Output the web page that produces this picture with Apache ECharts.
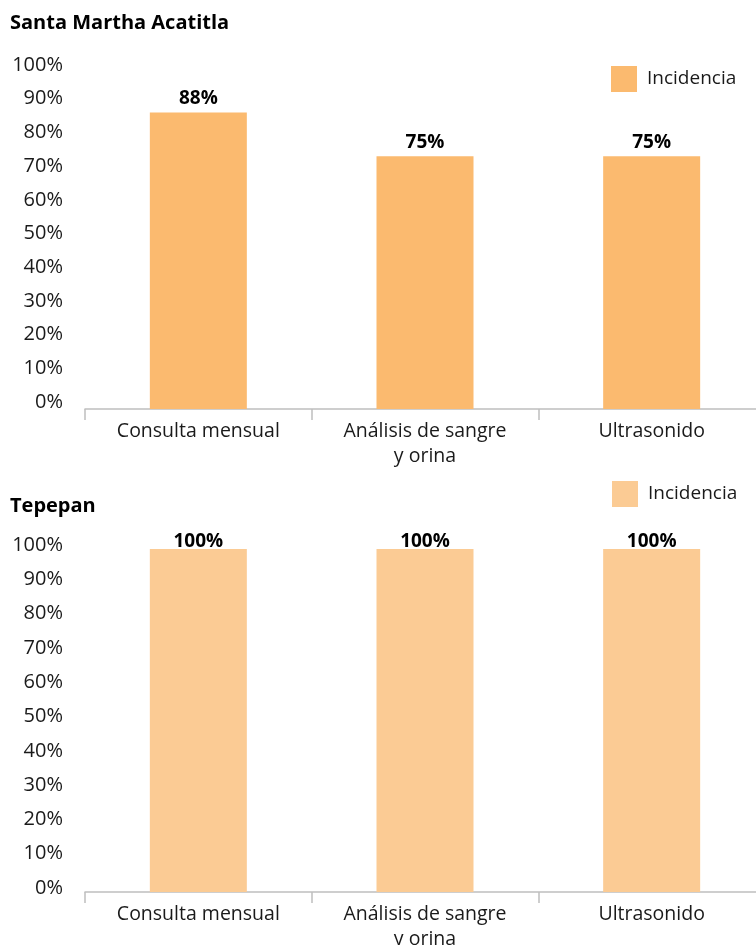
<!DOCTYPE html>
<html>
<head>
<meta charset="utf-8">
<script src="https://cdn.jsdelivr.net/npm/echarts@6/dist/echarts.min.js"></script>
<style>
  html, body { margin: 0; padding: 0; background: #ffffff; }
  #chart { width: 756px; height: 945px; }
</style>
</head>
<body>
<div id="chart"></div>
<script>
// Service categories shared by both facilities
const categories = ['Consulta mensual', 'Análisis de sangre\ny orina', 'Ultrasonido'];
// Incidence (%) per facility
const santaMarthaValues = [88, 75, 75];
const tepepanValues = [100, 100, 100];
// Panel titles and legend label
const panelTitles = ['Santa Martha Acatitla', 'Tepepan'];
const legendLabel = 'Incidencia';

const FONT = '"Open Sans", "Noto Sans", sans-serif';
const TEXT = '#1a1a1a';
const colors = ['#FBBA6F', '#FBCB94'];

// Tick labels sit slightly above their tick: bottom-aligned box whose
// line height sets how far the text centre is raised.
function yAxisFor(gridIndex, raise) {
  return {
    type: 'value', gridIndex: gridIndex, min: 0, max: 100, interval: 10,
    axisLine: { show: false }, axisTick: { show: false }, splitLine: { show: false },
    axisLabel: {
      formatter: '{value}%', margin: 22, color: TEXT, fontFamily: FONT, fontSize: 20,
      verticalAlign: 'bottom', lineHeight: raise * 2
    }
  };
}

function xAxisFor(gridIndex) {
  return {
    type: 'category', gridIndex: gridIndex, data: categories,
    axisLine: { lineStyle: { color: '#bfbfbf', width: 1.5 } },
    axisTick: { show: true, length: 11, lineStyle: { color: '#bfbfbf', width: 1.5 } },
    axisLabel: { color: TEXT, fontFamily: FONT, fontSize: 19.5, lineHeight: 25, margin: 10, interval: 0 }
  };
}

const option = {
  backgroundColor: '#ffffff',
  animation: false,
  title: [
    { text: panelTitles[0], left: 5, top: 8,
      textStyle: { fontFamily: FONT, fontSize: 20, fontWeight: 'bold', color: '#000' } },
    { text: panelTitles[1], left: 5, top: 491,
      textStyle: { fontFamily: FONT, fontSize: 20, fontWeight: 'bold', color: '#000' } }
  ],
  legend: [
    { data: [panelTitles[0]], left: 606, top: 61, itemWidth: 26, itemHeight: 26,
      formatter: () => legendLabel, icon: 'rect',
      textStyle: { fontFamily: FONT, fontSize: 19, color: TEXT, padding: [0, 0, 0, 5] } },
    { data: [panelTitles[1]], left: 607, top: 476, itemWidth: 26, itemHeight: 26,
      formatter: () => legendLabel, icon: 'rect',
      textStyle: { fontFamily: FONT, fontSize: 19, color: TEXT, padding: [0, 0, 0, 5] } }
  ],
  grid: [
    { left: 85, right: -9, top: 72, height: 337, outerBoundsMode: 'none', containLabel: false },
    { left: 85, right: -9, top: 549, height: 343, outerBoundsMode: 'none', containLabel: false }
  ],
  xAxis: [xAxisFor(0), xAxisFor(1)],
  yAxis: [yAxisFor(0, 7), yAxisFor(1, 4)],
  series: [
    {
      name: panelTitles[0], type: 'bar', xAxisIndex: 0, yAxisIndex: 0,
      data: santaMarthaValues, barWidth: 97, itemStyle: { color: colors[0] },
      label: { show: true, position: 'top', distance: 4, formatter: '{c}%',
        fontFamily: FONT, fontSize: 19, fontWeight: 'bold', color: '#000' }
    },
    {
      name: panelTitles[1], type: 'bar', xAxisIndex: 1, yAxisIndex: 1,
      data: tepepanValues, barWidth: 97, itemStyle: { color: colors[1] },
      label: { show: true, position: 'top', distance: -2, formatter: '{c}%',
        fontFamily: FONT, fontSize: 19, fontWeight: 'bold', color: '#000' }
    }
  ]
};

const chart = echarts.init(document.getElementById('chart'), null, { renderer: 'canvas' });
chart.setOption(option);
</script>
</body>
</html>
